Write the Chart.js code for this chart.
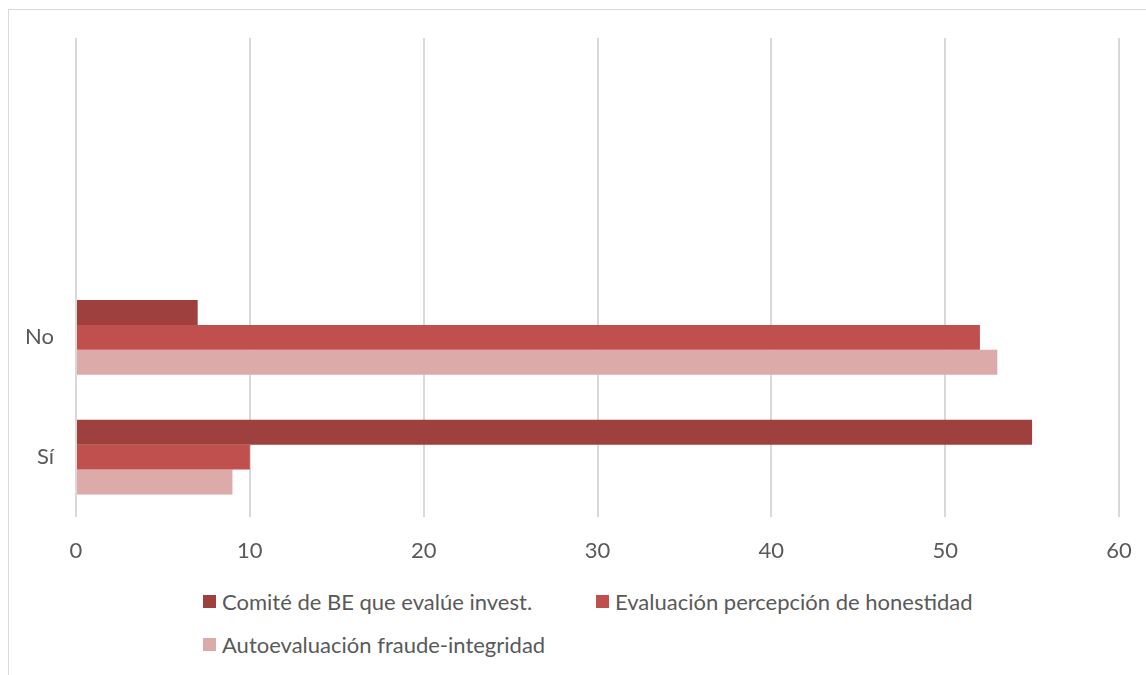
<!DOCTYPE html>
<html lang="es">
<head>
<meta charset="utf-8">
<title>Comité de BE</title>
<script src="https://cdn.jsdelivr.net/npm/chart.js@4/dist/chart.umd.min.js"></script>
<style>
  html, body { margin: 0; padding: 0; background: #fff; }
  body { width: 1146px; height: 675px; position: relative; overflow: hidden; font-family: Lato, "Open Sans", sans-serif; }
  .frame { position: absolute; left: 8px; top: 9px; width: 1200px; height: 720px; border: 1px solid #d9d9d9; box-sizing: border-box; }
  .wrap { position: absolute; left: 0; top: 0; width: 1146px; height: 580px; }
  #legend { position: absolute; left: 203px; top: 588px; width: 900px; color: #595959; font-size: 22px; }
  #legend .item { position: absolute; white-space: nowrap; display: flex; align-items: center; }
  #legend .box { width: 13px; height: 13px; margin-right: 6px; }
</style>
</head>
<body>
<div class="frame"></div>
<div class="wrap"><canvas id="chart" width="1146" height="580"></canvas></div>
<div id="legend"></div>
<script>
// categorías (las dos primeras filas quedan vacías)
const categorias = ["", "", "No", "Sí"];
const series = ["Comité de BE que evalúe invest.", "Evaluación percepción de honestidad", "Autoevaluación fraude-integridad"];
const comite = [null, null, 7, 55];
const honestidad = [null, null, 52, 10];
const autoevaluacion = [null, null, 53, 9];
const ticksX = [0, 10, 20, 30, 40, 50, 60];

const colores = ["#9e403e", "#c0504d", "#dcaaa9"];
const valores = [comite, honestidad, autoevaluacion];

const chart = new Chart(document.getElementById("chart"), {
  type: "bar",
  data: {
    labels: categorias,
    datasets: series.map((s, i) => ({
      label: s,
      data: valores[i],
      backgroundColor: colores[i],
      borderWidth: 0,
      barPercentage: 1,
      categoryPercentage: 0.625
    }))
  },
  options: {
    indexAxis: "y",
    responsive: false,
    animation: false,
    layout: { padding: { top: 38, right: 27, left: 0, bottom: 0 } },
    scales: {
      x: {
        min: ticksX[0],
        max: ticksX[ticksX.length - 1],
        afterBuildTicks: s => { s.ticks = ticksX.map(v => ({ value: v })); },
        grid: { color: "#d9d9d9", lineWidth: 2, drawTicks: false },
        border: { display: false },
        ticks: { color: "#595959", font: { family: "Lato", size: 22 }, padding: 21 },
        afterFit: s => { s.height = 63; s.paddingLeft = 0; s.paddingRight = 0; }
      },
      y: {
        grid: { display: false },
        border: { display: false },
        ticks: { color: "#595959", font: { family: "Lato", size: 22 }, padding: 14 },
        afterFit: s => { s.width = 76; }
      }
    },
    plugins: {
      legend: { display: false },
      tooltip: { enabled: false }
    }
  }
});

// leyenda en dos columnas, como la de Excel
const legendEl = document.getElementById("legend");
const posLeyenda = [[0, 0], [393, 0], [0, 43]];
series.forEach((s, i) => {
  const it = document.createElement("div");
  it.className = "item";
  it.style.left = posLeyenda[i][0] + "px";
  it.style.top = posLeyenda[i][1] + "px";
  it.innerHTML = `<span class="box" style="background:${colores[i]}"></span><span>${s}</span>`;
  legendEl.appendChild(it);
});
</script>
</body>
</html>
